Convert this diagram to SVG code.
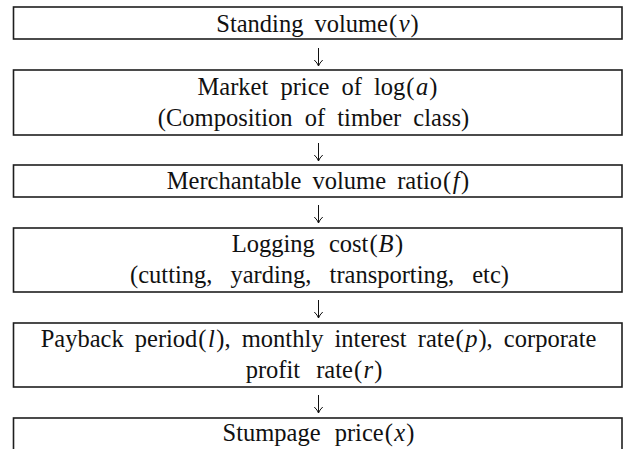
<svg xmlns="http://www.w3.org/2000/svg" width="623" height="449" viewBox="0 0 623 449">
<style>
.box{fill:#fff;stroke:#1e1e1e;stroke-width:1.6}
.t{font-family:"Liberation Serif","Times New Roman",serif;font-size:24.5px;fill:#111;text-anchor:middle}
.i{font-style:italic}
.c{stroke:#111;stroke-width:1;fill:none}
</style>
<defs>
<marker id="ah" markerWidth="8" markerHeight="10" refX="7" refY="5" orient="auto" markerUnits="userSpaceOnUse" viewBox="0 0 8 10">
<path d="M1,0.8 Q4,4 7,5 M1,9.2 Q4,6 7,5" fill="none" stroke="#111" stroke-width="1"/>
</marker>
</defs>
<rect width="623" height="449" fill="#fff"/>
<g id="connectors">
<line class="c" x1="318.5" y1="48" x2="318.5" y2="66" marker-end="url(#ah)"/>
<line class="c" x1="318.5" y1="143" x2="318.5" y2="161" marker-end="url(#ah)"/>
<line class="c" x1="318.5" y1="205" x2="318.5" y2="223" marker-end="url(#ah)"/>
<line class="c" x1="318.5" y1="300" x2="318.5" y2="318" marker-end="url(#ah)"/>
<line class="c" x1="318.5" y1="395" x2="318.5" y2="413" marker-end="url(#ah)"/>
</g>
<g id="n1">
<rect class="box" x="13.5" y="7" width="608.5" height="32"/>
<text class="t" x="317.5" y="32" style="word-spacing:5px">Standing volume<tspan dx="1">(</tspan><tspan class="i" dx="1.5">v</tspan><tspan dx="1">)</tspan></text>
</g>
<g id="n2">
<rect class="box" x="13.5" y="70" width="608.5" height="65"/>
<text class="t" x="317.5" y="95" style="word-spacing:6px">Market price of log<tspan dx="1">(</tspan><tspan class="i" dx="1.5">a</tspan><tspan dx="1">)</tspan></text>
<text class="t" x="313.5" y="126" style="word-spacing:6px">(Composition of timber class)</text>
</g>
<g id="n3">
<rect class="box" x="13.5" y="165" width="608.5" height="32"/>
<text class="t" x="318" y="189" style="word-spacing:5px">Merchantable volume ratio<tspan dx="1">(</tspan><tspan class="i" dx="1.5">f</tspan><tspan dx="1.5">)</tspan></text>
</g>
<g id="n4">
<rect class="box" x="13.5" y="228" width="608.5" height="64"/>
<text class="t" x="317.5" y="252" style="word-spacing:8px">Logging cost<tspan dx="1">(</tspan><tspan class="i" dx="1">B</tspan><tspan dx="1.5">)</tspan></text>
<text class="t" x="319.5" y="283" style="word-spacing:12px">(cutting, yarding, transporting, etc)</text>
</g>
<g id="n5">
<rect class="box" x="13.5" y="323" width="608.5" height="64"/>
<text class="t" x="318.5" y="347" style="word-spacing:5px">Payback period<tspan dx="1">(</tspan><tspan class="i" dx="1.5">l</tspan><tspan dx="1.5">),</tspan> monthly interest rate<tspan dx="1">(</tspan><tspan class="i" dx="1.5">p</tspan><tspan dx="1">),</tspan> corporate</text>
<text class="t" x="314" y="378" style="word-spacing:10px">profit rate<tspan dx="1">(</tspan><tspan class="i" dx="1.5">r</tspan><tspan dx="1">)</tspan></text>
</g>
<g id="n6">
<rect class="box" x="13.5" y="418" width="608.5" height="45"/>
<text class="t" x="318.5" y="441" style="word-spacing:8px">Stumpage price<tspan dx="1">(</tspan><tspan class="i" dx="1.5">x</tspan><tspan dx="1">)</tspan></text>
</g>
</svg>
